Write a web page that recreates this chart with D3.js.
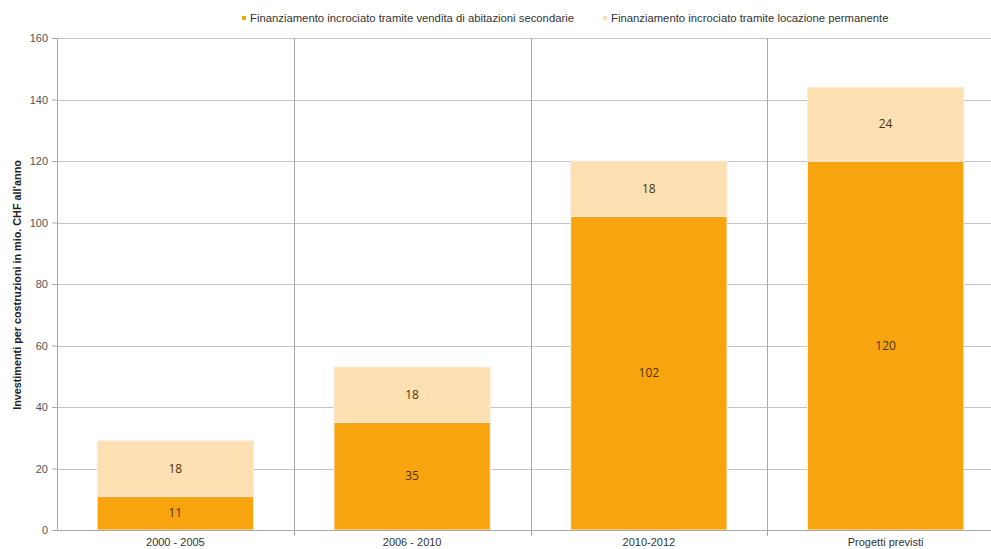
<!DOCTYPE html>
<html>
<head>
<meta charset="utf-8">
<script src="https://cdn.jsdelivr.net/npm/d3@7"></script>
<style>
  body { margin: 0; background: #fff; overflow: hidden; }
  text { font-family: "Liberation Sans", Arial, sans-serif; }
</style>
</head>
<body>
<svg id="chart"></svg>
<script>
// data
var categories = ["2000 - 2005", "2006 - 2010", "2010-2012", "Progetti previsti"];
var vendita = [11, 35, 102, 120];
var locazione = [18, 18, 18, 24];
var seriesNames = [
    "Finanziamento incrociato tramite vendita di abitazioni secondarie",
    "Finanziamento incrociato tramite locazione permanente"
];
var yTicks = [0, 20, 40, 60, 80, 100, 120, 140, 160];

var colDark = "#f8a40f",
    colLight = "#fde0b2";

var margin = {top: 38, right: -13, bottom: 19, left: 57},
    width = 991 - margin.left - margin.right,
    height = 549 - margin.top - margin.bottom;

var svg = d3.select("#chart")
    .attr("width", 991)
    .attr("height", 549);

var g = svg.append("g")
    .attr("transform", "translate(" + margin.left + "," + margin.top + ")");

var x = d3.scaleBand()
    .domain(categories)
    .range([0, width])
    .paddingInner(0.34)
    .paddingOuter(0.17);

var y = d3.scaleLinear()
    .domain([0, 160])
    .range([height, 0]);

// horizontal grid
g.append("g")
    .selectAll("line")
    .data(yTicks)
    .enter()
    .append("line")
    .attr("x1", 0)
    .attr("x2", width)
    .attr("y1", function(d){ return Math.round(y(d)) + 0.5; })
    .attr("y2", function(d){ return Math.round(y(d)) + 0.5; })
    .style("stroke", "#c4c4c4")
    .style("stroke-width", "1px");

// vertical grid at category boundaries
var step = x.step();
var bounds = d3.range(1, categories.length + 1).map(function(i){ return i * step; });
g.append("g")
    .selectAll("line")
    .data(bounds)
    .enter()
    .append("line")
    .attr("x1", function(d){ return Math.round(d) + 0.5; })
    .attr("x2", function(d){ return Math.round(d) + 0.5; })
    .attr("y1", 0)
    .attr("y2", height + 6)
    .style("stroke", "#a9a9a9")
    .style("stroke-width", "1px");

// stacked bars
var stackData = categories.map(function(c, i){
    return {cat: c, vendita: vendita[i], locazione: locazione[i]};
});
var stack = d3.stack().keys(["vendita", "locazione"]);
var layers = stack(stackData);
var colors = [colDark, colLight];

var bars = g.append("g");
layers.forEach(function(layer, li){
    bars.selectAll(".bar-" + li)
        .data(layer)
        .enter()
        .append("rect")
        .attr("class", "bar-" + li)
        .attr("x", function(d){ return x(d.data.cat); })
        .attr("width", x.bandwidth())
        .attr("y", function(d){ return y(d[1]); })
        .attr("height", function(d){ return y(d[0]) - y(d[1]); })
        .style("fill", colors[li])
        .style("stroke", "#f4ece0")
        .style("stroke-width", "1px");

    bars.selectAll(".lbl-" + li)
        .data(layer)
        .enter()
        .append("text")
        .attr("class", "lbl-" + li)
        .attr("x", function(d){ return x(d.data.cat) + x.bandwidth() / 2; })
        .attr("y", function(d){ return (y(d[0]) + y(d[1])) / 2 + 4; })
        .attr("text-anchor", "middle")
        .style("font-family", "'Open Sans', sans-serif")
        .style("font-size", "12px")
        .style("fill", "#4e3410")
        .text(function(d){ return d[1] - d[0]; });
});

// y axis
var yAxis = g.append("g")
    .call(d3.axisLeft(y).tickValues(yTicks).tickSize(5).tickPadding(4));
yAxis.select(".domain").style("stroke", "#a9a9a9").attr("d", "M0.5,0V" + height);
yAxis.selectAll(".tick line").style("stroke", "#a9a9a9");
yAxis.selectAll(".tick text")
    .style("font-size", "11px")
    .style("fill", "#555")
    .style("font-family", "'Liberation Sans', Arial, sans-serif");

// x axis labels
g.append("g")
    .selectAll("text")
    .data(categories)
    .enter()
    .append("text")
    .attr("x", function(d){ return x(d) + x.bandwidth() / 2; })
    .attr("y", height + 15.5)
    .attr("text-anchor", "middle")
    .style("font-size", "11px")
    .style("fill", "#333")
    .text(function(d){ return d; });

// x axis line
g.append("line")
    .attr("x1", 0)
    .attr("x2", width)
    .attr("y1", height + 0.5)
    .attr("y2", height + 0.5)
    .style("stroke", "#a9a9a9");

// y axis title
svg.append("text")
    .attr("transform", "translate(21," + 285 + ") rotate(-90)")
    .attr("text-anchor", "middle")
    .style("font-size", "10.8px")
    .style("font-weight", "bold")
    .style("fill", "#222")
    .text("Investimenti per costruzioni in mio. CHF all'anno");

// legend
var legendPos = [242, 603];
var legend = svg.append("g");
seriesNames.forEach(function(name, i){
    legend.append("rect")
        .attr("x", legendPos[i])
        .attr("y", 16)
        .attr("width", 4)
        .attr("height", 4)
        .style("fill", colors[i]);
    legend.append("text")
        .attr("x", legendPos[i] + 8)
        .attr("y", 22)
        .style("font-size", "11.3px")
        .style("fill", "#333")
        .text(name);
});
</script>
</body>
</html>
